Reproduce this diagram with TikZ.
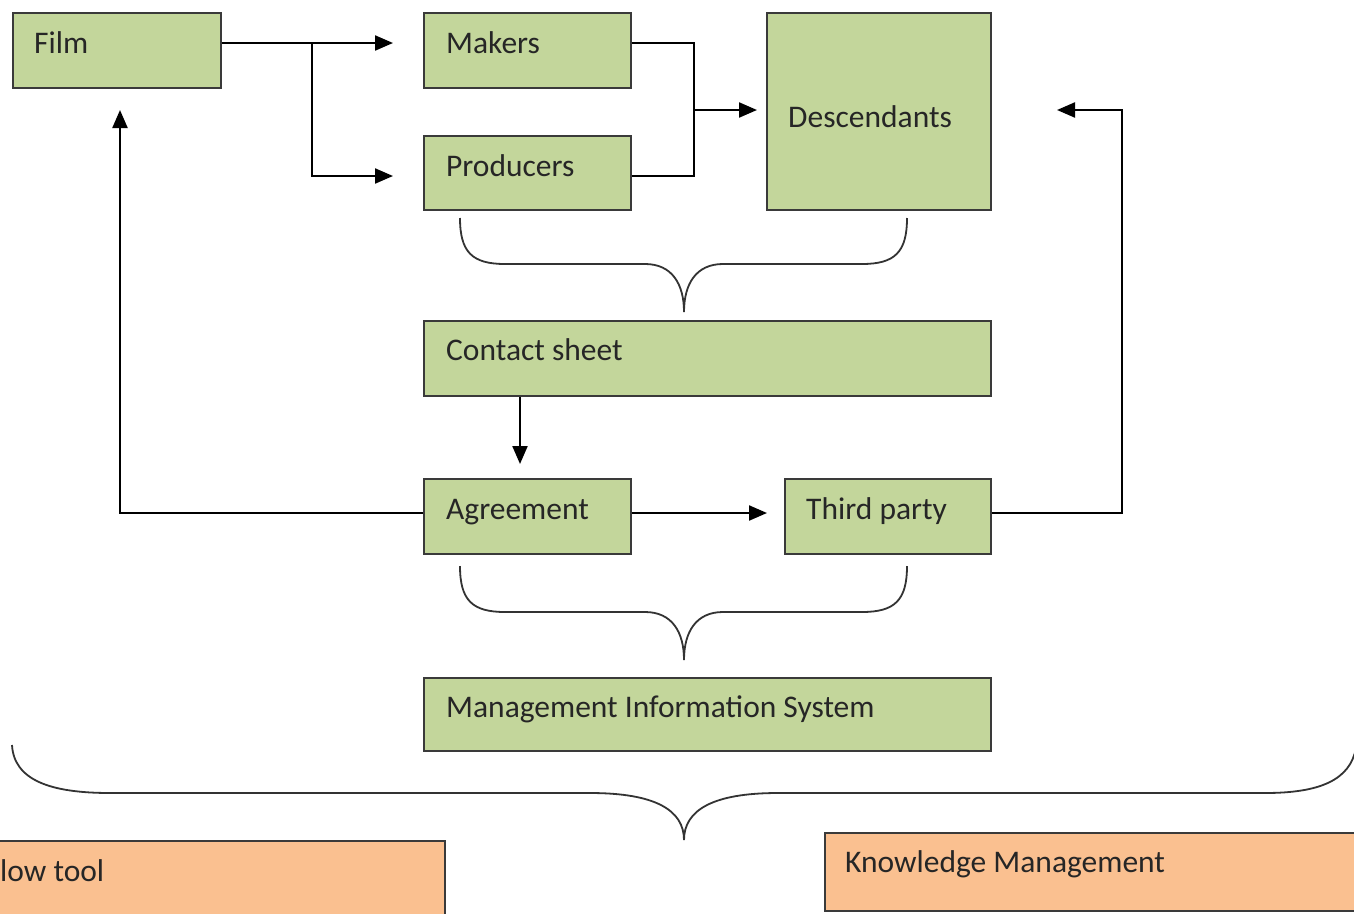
\documentclass[tikz,border=0pt]{standalone}
\usepackage{fontspec}
\setmainfont{Carlito}
\usetikzlibrary{arrows.meta,calc}
\definecolor{boxgreen}{HTML}{C3D69B}
\definecolor{boxorange}{HTML}{FAC090}
\definecolor{edge}{HTML}{3A3A3A}
\begin{document}
\begin{tikzpicture}[x=1pt,y=-1pt,
  gbox/.style={draw=edge,line width=1.6pt,fill=boxgreen,inner sep=0pt,anchor=north west},
  obox/.style={draw=edge,line width=1.6pt,fill=boxorange,inner sep=0pt,anchor=north west},
  lbl/.style={anchor=base west,inner sep=0pt,font=\fontsize{31.5}{36}\selectfont,text=black!85},
  conn/.style={draw=black,line width=2.2pt},
  arr/.style={conn,-{Triangle[length=18pt,width=15pt]}},
  brace/.style={draw=black!80,line width=1.8pt}]
\useasboundingbox (0,0) rectangle (1354,913);
\clip (0,0) rectangle (1354,913);
\fill[white] (0,0) rectangle (1354,913);

% boxes
\node[gbox,minimum width=208pt,minimum height=75pt] (film) at (12,12) {};
\node[gbox,minimum width=207pt,minimum height=75pt] (makers) at (423,12) {};
\node[gbox,minimum width=207pt,minimum height=74pt] (producers) at (423,135) {};
\node[gbox,minimum width=224pt,minimum height=197pt] (desc) at (766,12) {};
\node[gbox,minimum width=567pt,minimum height=75pt] (contact) at (423,320) {};
\node[gbox,minimum width=207pt,minimum height=75pt] (agree) at (423,478) {};
\node[gbox,minimum width=206pt,minimum height=75pt] (third) at (784,478) {};
\node[gbox,minimum width=567pt,minimum height=73pt] (mis) at (423,677) {};
\node[obox,minimum width=464pt,minimum height=90pt] (work) at (-20,840) {};
\node[obox,minimum width=550pt,minimum height=78pt] (know) at (824,832) {};

% labels
\node[lbl] (tfilm) at (34,53) {Film};
\node[lbl] (tmakers) at (446,53) {Makers};
\node[lbl] (tprod) at (446,176) {Producers};
\node[lbl] (tdesc) at (788,127) {Descendants};
\node[lbl] (tcontact) at (446,360) {Contact sheet};
\node[lbl] (tagree) at (446,519) {Agreement};
\node[lbl] (tthird) at (806,519) {Third party};
\node[lbl] (tmis) at (446,717) {Management Information System};
\node[lbl] (twork) at (0,881) {low tool};
\node[lbl] (tknow) at (845,872) {Knowledge Management};

% connector points
\coordinate (fsplit) at (312,43);
\coordinate (mjoin) at (694,110);
\coordinate (cdown) at (520,464);
\coordinate (leftup) at (120,110);
\coordinate (rightup) at (1057,110);

% Film -> Makers / Producers
\draw[arr] (film.east |- 0,43) -- (393,43);
\draw[arr] (fsplit) |- (393,176);
% Makers/Producers -> Descendants
\draw[conn] (makers.east |- 0,43) -| (mjoin) |- (producers.east |- 0,176);
\draw[arr] (mjoin) -- (757,110);
% Contact sheet -> Agreement
\draw[arr] (contact.south -| cdown) -- (cdown);
% Agreement -> Film
\draw[arr] (agree.west |- 0,513) -| (leftup);
% Agreement -> Third party
\draw[arr] (agree.east |- 0,513) -- (767,513);
% Third party -> Descendants
\draw[arr] (third.east |- 0,513) -| (1122,300) |- (rightup);

% braces
\draw[brace] (460,218) .. controls (460,252) and (472,264) .. (505,264) -- (645,264)
  .. controls (672,264) and (684,284) .. (684,312)
  .. controls (684,284) and (696,264) .. (723,264) -- (862,264)
  .. controls (895,264) and (907,252) .. (907,218);
\draw[brace] (460,566) .. controls (460,600) and (472,612) .. (505,612) -- (645,612)
  .. controls (672,612) and (684,632) .. (684,660)
  .. controls (684,632) and (696,612) .. (723,612) -- (862,612)
  .. controls (895,612) and (907,600) .. (907,566);
\draw[brace] (12,745) .. controls (14,780) and (50,793) .. (110,793) -- (590,793)
  .. controls (655,793) and (684,810) .. (684,840)
  .. controls (684,810) and (713,793) .. (778,793) -- (1265,793)
  .. controls (1320,793) and (1350,780) .. (1356,748);
\end{tikzpicture}
\end{document}
